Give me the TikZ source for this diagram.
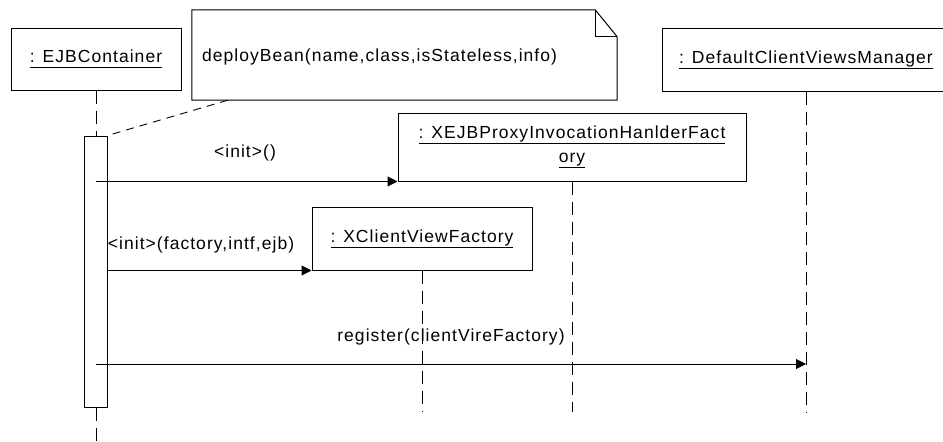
\documentclass[tikz,border=0pt]{standalone}
\usepackage{fontspec}
\setmainfont{Liberation Sans}[LetterSpace=6]
\usetikzlibrary{arrows.meta,calc}

% underlined object name with a fixed rule depth
\newcommand{\objname}[1]{\underline{#1\vphantom{y}}}

\begin{document}
\begin{tikzpicture}[x=1pt,y=-1pt,
    every node/.style={font=\fontsize{17.5}{25}\selectfont, inner sep=0pt},
    objbox/.style={draw, line width=1pt, rectangle, align=center},
    lifeline/.style={line width=1pt, dash pattern=on 13pt off 7pt},
    msg/.style={line width=1pt, -{Triangle[length=10pt,width=10pt]}},
    anchorline/.style={line width=0.9pt, dash pattern=on 8pt off 6pt},
    msglabel/.style={anchor=center}]
  \useasboundingbox (0,0) rectangle (943,442);

  % objects
  \node[objbox, minimum width=170pt, minimum height=62pt] (ejb) at (96,59) {\objname{: EJBContainer}};
  \node[objbox, minimum width=348pt, minimum height=68pt] (xejb) at (572,147)
    {\objname{: XEJBProxyInvocationHanlderFact}\\[-1pt]\objname{ory}};
  \node[objbox, minimum width=220pt, minimum height=63pt] (xcvf) at (422,238.5) {\objname{: XClientViewFactory}};
  \node[objbox, minimum width=288pt, minimum height=63pt] (dcvm) at (806,59.5) {\objname{: DefaultClientViewsManager}};

  % note with folded corner
  \node[minimum width=425pt, minimum height=90pt] (note) at (404.5,55) {};
  \draw[line width=1pt, fill=white] (note.south west) -- (note.north west) -- ($(note.north east)+(-22,0)$)
    -- ($(note.north east)+(0,27)$) -- (note.south east) -- cycle;
  \draw[line width=1pt] ($(note.north east)+(-22,0)$) -- ($(note.north east)+(-22,27)$) -- ($(note.north east)+(0,27)$);
  \node[anchor=west] (notetext) at ($(note.west)+(10,2)$)
    {deployBean(name,class,isStateless,info)};

  % activation bar of the container
  \node[draw, line width=1pt, fill=white, minimum width=23pt, minimum height=271pt] (act) at (95.5,271.5) {};

  % lifelines
  \coordinate (ejbend) at (96,442);
  \coordinate (xejbend) at (572,412);
  \coordinate (xcvfend) at (422,412);
  \coordinate (dcvmend) at (806,412);
  \draw[lifeline] (ejb.south) -- (ejb.south |- act.north);
  \draw[lifeline] (ejb.south |- act.south) -- (ejbend);
  \draw[lifeline] (xejb.south) -- (xejbend);
  \draw[lifeline] (xcvf.south) -- (xcvfend);
  \draw[lifeline] (dcvm.south) -- (dcvmend);

  % note anchor
  \draw[anchorline] ($(note.south west)+(36,0)$) -- (act.north east);

  % messages
  \coordinate (regend) at (806,364);
  \draw[msg] (act.north |- xejb.south) -- (xejb.south west);
  \node[msglabel] (m1) at (245,153) {<init>()};
  \draw[msg] (act.north east |- xcvf.south) -- (xcvf.south west);
  \node[msglabel] (m2) at (201,245) {<init>(factory,intf,ejb)};
  \draw[msg] (act.north |- regend) -- (regend);
  \node[msglabel] (m3) at (451,337) {register(clientVireFactory)};
\end{tikzpicture}
\end{document}
